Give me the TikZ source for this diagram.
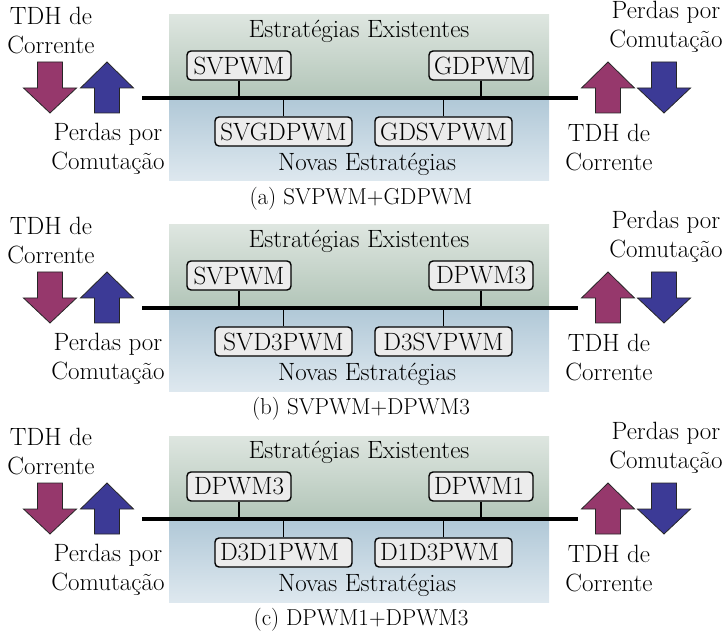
\documentclass[tikz,border=0pt]{standalone}
\usepackage{fontspec}
\definecolor{exTop}{RGB}{222,230,224}
\definecolor{exBot}{RGB}{178,197,184}
\definecolor{nvTop}{RGB}{176,200,215}
\definecolor{nvBot}{RGB}{222,232,239}
\definecolor{tdhc}{RGB}{150,56,108}
\definecolor{perd}{RGB}{60,58,150}
\definecolor{boxfill}{RGB}{236,236,236}
\tikzset{
  txt/.style={font=\fontsize{25}{29}\selectfont, inner sep=0pt, align=center},
  captxt/.style={txt, font=\fontsize{23}{27}\selectfont},
  strat/.style={txt, draw=black, fill=boxfill, line width=1.4pt, rounded corners=4pt,
                minimum height=29pt, inner xsep=5pt},
  upperbox/.style={strat, text width=94pt},
  lowerbox/.style={strat, text width=127pt},
  bus/.style={line width=4pt, line cap=butt},
  tie/.style={line width=1.2pt},
  arrowshape/.style={draw=black!85, line width=0.8pt, line join=miter},
  % arrows: anchored at the top centre of their outline
  pics/arrowdn/.style={code={
    \filldraw[arrowshape, fill=#1] (-12.5,0) -- (12.5,0) -- (12.5,26) -- (26.5,26)
      -- (0,51) -- (-26.5,26) -- (-12.5,26) -- cycle;}},
  pics/arrowup/.style={code={
    \filldraw[arrowshape, fill=#1] (0,0) -- (26.5,26) -- (12.5,26) -- (12.5,51)
      -- (-12.5,51) -- (-12.5,26) -- (-26.5,26) -- cycle;}},
}
% one comparison panel: #1 prefix, #2 vertical offset, #3..#6 strategy names,
% #7 caption, #8 alignment of the lower boxes and upper right box
\newcommand\strategypanel[8]{%
\begin{scope}[yshift=-#2pt]
  \shade[top color=exTop, bottom color=exBot] (169,15) rectangle (549,98);
  \shade[top color=nvTop, bottom color=nvBot] (169,98) rectangle (549,181);
  \node[txt] (#1-ex) at (359,31) {Estratégias Existentes};
  \node[txt] (#1-nv) at (367,164) {Novas Estratégias};
  \coordinate (#1-busL) at (142,98);
  \coordinate (#1-busR) at (578,98);
  \draw[bus] (#1-busL) -- (#1-busR);
  \node[upperbox] (#1-tl) at (239,65.5) {#3};
  \node[upperbox, align=#8] (#1-tr) at (481,65.5) {#4};
  \node[lowerbox, align=#8] (#1-bl) at (283.5,131.5) {#5};
  \node[lowerbox, align=#8] (#1-br) at (443.5,131.5) {#6};
  \draw[tie] (#1-tl.south) -- (#1-tl.south |- #1-busL);
  \draw[tie] (#1-tr.south) -- (#1-tr.south |- #1-busL);
  \draw[tie] (#1-bl.north) -- (#1-bl.north |- #1-busL);
  \draw[tie] (#1-br.north) -- (#1-br.north |- #1-busL);
  \node[txt] (#1-tdhL) at (51,31) {TDH de\\Corrente};
  \pic at (50,62) {arrowdn=tdhc};
  \pic at (107,62) {arrowup=perd};
  \node[txt] (#1-perL) at (108,149) {Perdas por\\Comutação};
  \node[txt] (#1-perR) at (666,27) {Perdas por\\Comutação};
  \pic at (608,62) {arrowup=tdhc};
  \pic at (664,62) {arrowdn=perd};
  \node[txt] (#1-tdhR) at (609,148) {TDH de\\Corrente};
  \node[captxt] (#1-cap) at (361,199) {#7};
\end{scope}}
\begin{document}
\begin{tikzpicture}[x=1pt, y=-1pt]
  \useasboundingbox (0,0) rectangle (723,636);
  \strategypanel{a}{0}{SVPWM}{GDPWM}{SVGDPWM}{GDSVPWM}{(a) SVPWM+GDPWM}{center}
  \strategypanel{b}{210}{SVPWM}{DPWM3}{SVD3PWM}{D3SVPWM}{(b) SVPWM+DPWM3}{center}
  \strategypanel{c}{421}{DPWM3}{DPWM1}{D3D1PWM}{D1D3PWM}{(c) DPWM1+DPWM3}{left}
\end{tikzpicture}
\end{document}
